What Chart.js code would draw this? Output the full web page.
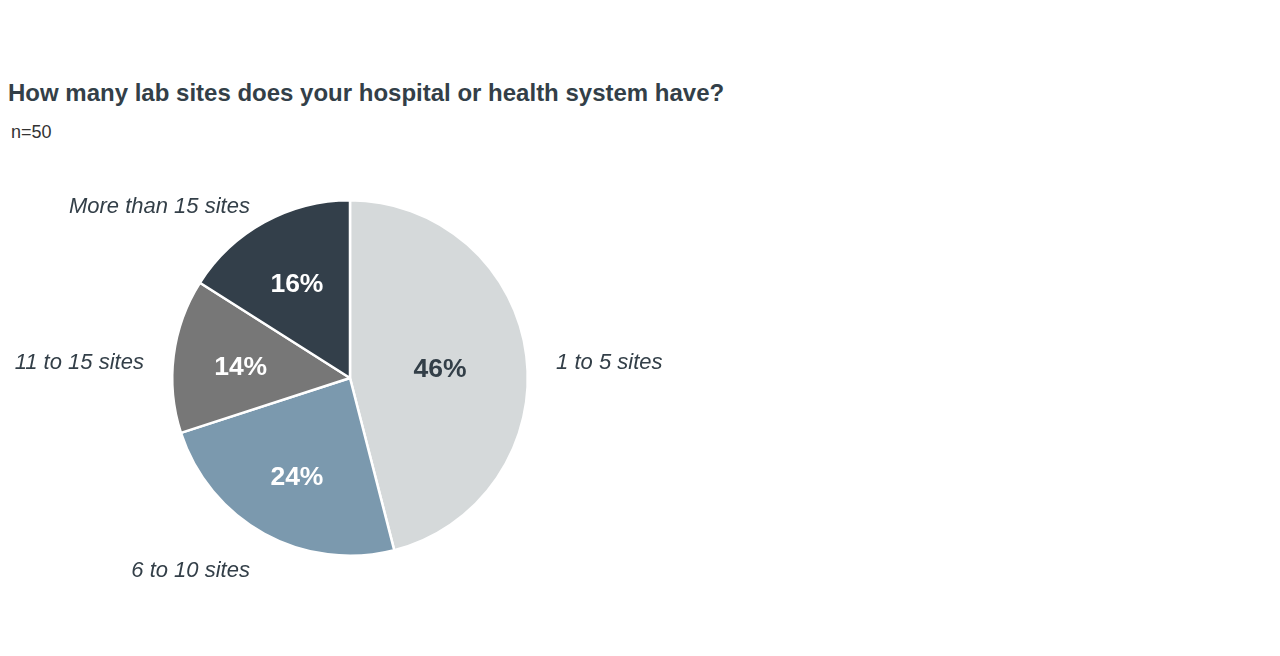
<!DOCTYPE html>
<html>
<head>
<meta charset="utf-8">
<script src="https://cdn.jsdelivr.net/npm/chart.js@4"></script>
<style>
  body { margin: 0; background: #fff; font-family: "Liberation Sans", Arial, sans-serif; }
  #wrap { position: relative; width: 1280px; height: 656px; }
  #title { position: absolute; left: 8px; top: 79px; font-size: 24px; line-height: 28px; font-weight: bold; color: #333f48; white-space: nowrap; }
  #sub { position: absolute; left: 11px; top: 122px; font-size: 18px; line-height: 21px; color: #333; }
  #box { position: absolute; left: 0; top: 0; width: 1280px; height: 656px; }
</style>
</head>
<body>
<div id="wrap">
  <div id="title">How many lab sites does your hospital or health system have?</div>
  <div id="sub">n=50</div>
  <div id="box"><canvas id="myChart"></canvas></div>
</div>
<script>
// Data
const categories = ['1 to 5 sites', '6 to 10 sites', '11 to 15 sites', 'More than 15 sites'];
const shares = [46, 24, 14, 16];
const sliceColors = ['#d5d9da', '#7b99ae', '#777777', '#333f4a'];
const valueColors = ['#333f48', '#ffffff', '#ffffff', '#ffffff'];

// draws percent labels inside and category labels outside each slice
const sliceLabels = {
  id: 'sliceLabels',
  afterDatasetsDraw(chart) {
    const ctx = chart.ctx;
    const arcs = chart.getDatasetMeta(0).data;
    arcs.forEach(function (arc, i) {
      const p = arc.getProps(['x', 'y', 'startAngle', 'endAngle', 'outerRadius']);
      const mid = (p.startAngle + p.endAngle) / 2;
      const cx = Math.cos(mid), cy = Math.sin(mid);

      ctx.save();
      ctx.font = 'bold 26.5px "Liberation Sans", Arial, sans-serif';
      ctx.fillStyle = valueColors[i];
      ctx.textAlign = 'center';
      ctx.textBaseline = 'middle';
      const rIn = p.outerRadius * (shares[i] > 40 ? 0.51 : 0.62);
      ctx.fillText(shares[i] + '%', p.x + cx * rIn, p.y + cy * rIn + 3);

      ctx.font = 'italic 22px "Liberation Sans", Arial, sans-serif';
      ctx.fillStyle = '#333f48';
      const rOut = p.outerRadius + 30;
      ctx.textAlign = cx > 0.1 ? 'left' : (cx < -0.1 ? 'right' : 'center');
      ctx.textBaseline = 'top';
      ctx.fillText(categories[i], p.x + cx * rOut, p.y + cy * rOut);
      ctx.restore();
    });
  }
};

const data = {
  labels: categories,
  datasets: [{
    data: shares,
    backgroundColor: sliceColors,
    borderColor: '#ffffff',
    borderWidth: 2.5
  }]
};

const config = {
  type: 'pie',
  data,
  options: {
    responsive: true,
    maintainAspectRatio: false,
    animation: false,
    layout: { padding: { left: 171, right: 751, top: 199, bottom: 99 } },
    plugins: {
      legend: { display: false },
      tooltip: { enabled: false }
    }
  },
  plugins: [sliceLabels]
};

var myChart = new Chart(
  document.getElementById('myChart'),
  config
);
</script>
</body>
</html>
